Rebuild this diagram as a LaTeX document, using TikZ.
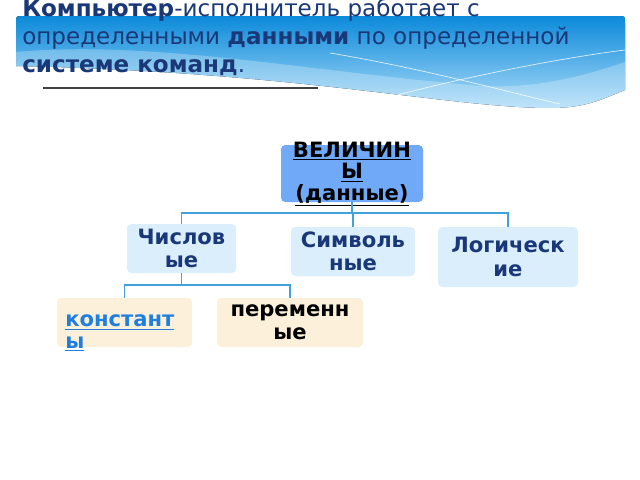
\documentclass[tikz,border=0pt]{standalone}
\usepackage{fontspec}
\setmainfont{DejaVu Sans}
\usetikzlibrary{positioning}
\usepackage{xcolor}

\newdimen\pxu \pxu=0.025cm

\definecolor{navy}{RGB}{26,56,120}
\definecolor{bannertop}{RGB}{12,138,218}
\definecolor{bannerbot}{RGB}{170,219,248}
\definecolor{velfill}{RGB}{112,169,247}
\definecolor{kindfill}{RGB}{218,238,252}
\definecolor{sortfill}{RGB}{253,240,218}
\definecolor{linkblue}{RGB}{66,163,220}
\definecolor{hyperblue}{RGB}{30,127,224}

\begin{document}
\begin{tikzpicture}[x=0.025cm, y=-0.025cm,
  link/.style={draw=linkblue, line width=0.9pt},
  box/.style={rounded corners=3pt, inner sep=0pt, align=center, text=navy,
    font=\fontsize{15}{16.5}\selectfont\bfseries},
  boxtext/.style={inner sep=0pt, align=center, font=\fontsize{15}{15.3}\selectfont\bfseries},
  titleline/.style={anchor=base west, inner sep=0pt, text=navy, font=\fontsize{16.4}{19}\selectfont}]

\useasboundingbox (0,0) rectangle (640,480);

%banner%
\fill[top color=bannertop, bottom color=bannerbot]
  (16,66) -- (16,23) .. controls (16,16) .. (23,16) -- (618,16) .. controls (625,16) .. (625,23)
  -- (625,90) .. controls (600,100) and (585,108) .. (550,108) .. controls (450,108) and (300,72) .. (16,66) -- cycle;
\fill[white, opacity=0.25]
  (16,52) .. controls (150,40) and (300,70) .. (470,85) .. controls (540,92) and (600,70) .. (625,62)
  -- (625,90) .. controls (600,100) and (585,108) .. (550,108) .. controls (450,108) and (300,72) .. (16,66) -- cycle;
\draw[white, opacity=0.8, line width=0.5pt] (330,53) .. controls (420,68) and (500,90) .. (560,104);
\draw[white, opacity=0.8, line width=0.5pt] (390,97) .. controls (460,78) and (560,58) .. (625,50);

%title%
\node[titleline] (title1) at (22,17) {\textbf{Компьютер}-исполнитель работает с};
\node[titleline] (title2) at (22,44.5) {определенными \textbf{данными} по определенной};
\node[titleline] (title3) at (22,72) {\textbf{системе команд}.};
\draw[line width=1pt, black!75] (43,88) -- (318,88);

%boxes%
\node[box, fill=velfill, minimum width=142\pxu, minimum height=57\pxu] (vel) at (352,173.5) {};
\node[boxtext, text=black] (veltxt) at (352,174) {\underline{ВЕЛИЧИН}\\\underline{Ы}\\\underline{(данные)}};

\node[box, fill=kindfill, minimum width=109\pxu, minimum height=49\pxu] (num) at (181.5,248.5) {Числов\\ые};
\node[box, fill=kindfill, minimum width=124\pxu, minimum height=49\pxu] (sym) at (353,251.5) {Символь\\ные};
\node[box, fill=kindfill, minimum width=140\pxu, minimum height=60\pxu] (log) at (508,257) {Логическ\\ие};

\node[box, fill=sortfill, minimum width=135\pxu, minimum height=49\pxu] (con) at (124.5,322.5) {};
\node[boxtext, anchor=west, align=left, text=hyperblue] (contxt) at (65,333) {\underline{констант}\\\underline{ы}};
\node[box, fill=sortfill, text=black, minimum width=146\pxu, minimum height=49\pxu] (var) at (290,322.5) {переменн\\ые};

%connectors%
\coordinate (j1) at (352,213);
\coordinate (j2) at (181.5,285);
\draw[link] (vel.south) -- (j1);
\foreach \c in {num,sym,log} \draw[link] (j1) -| (\c.north);
\draw[link] (num.south) -- (j2);
\foreach \c in {con,var} \draw[link] (j2) -| (\c.north);

\end{tikzpicture}
\end{document}
